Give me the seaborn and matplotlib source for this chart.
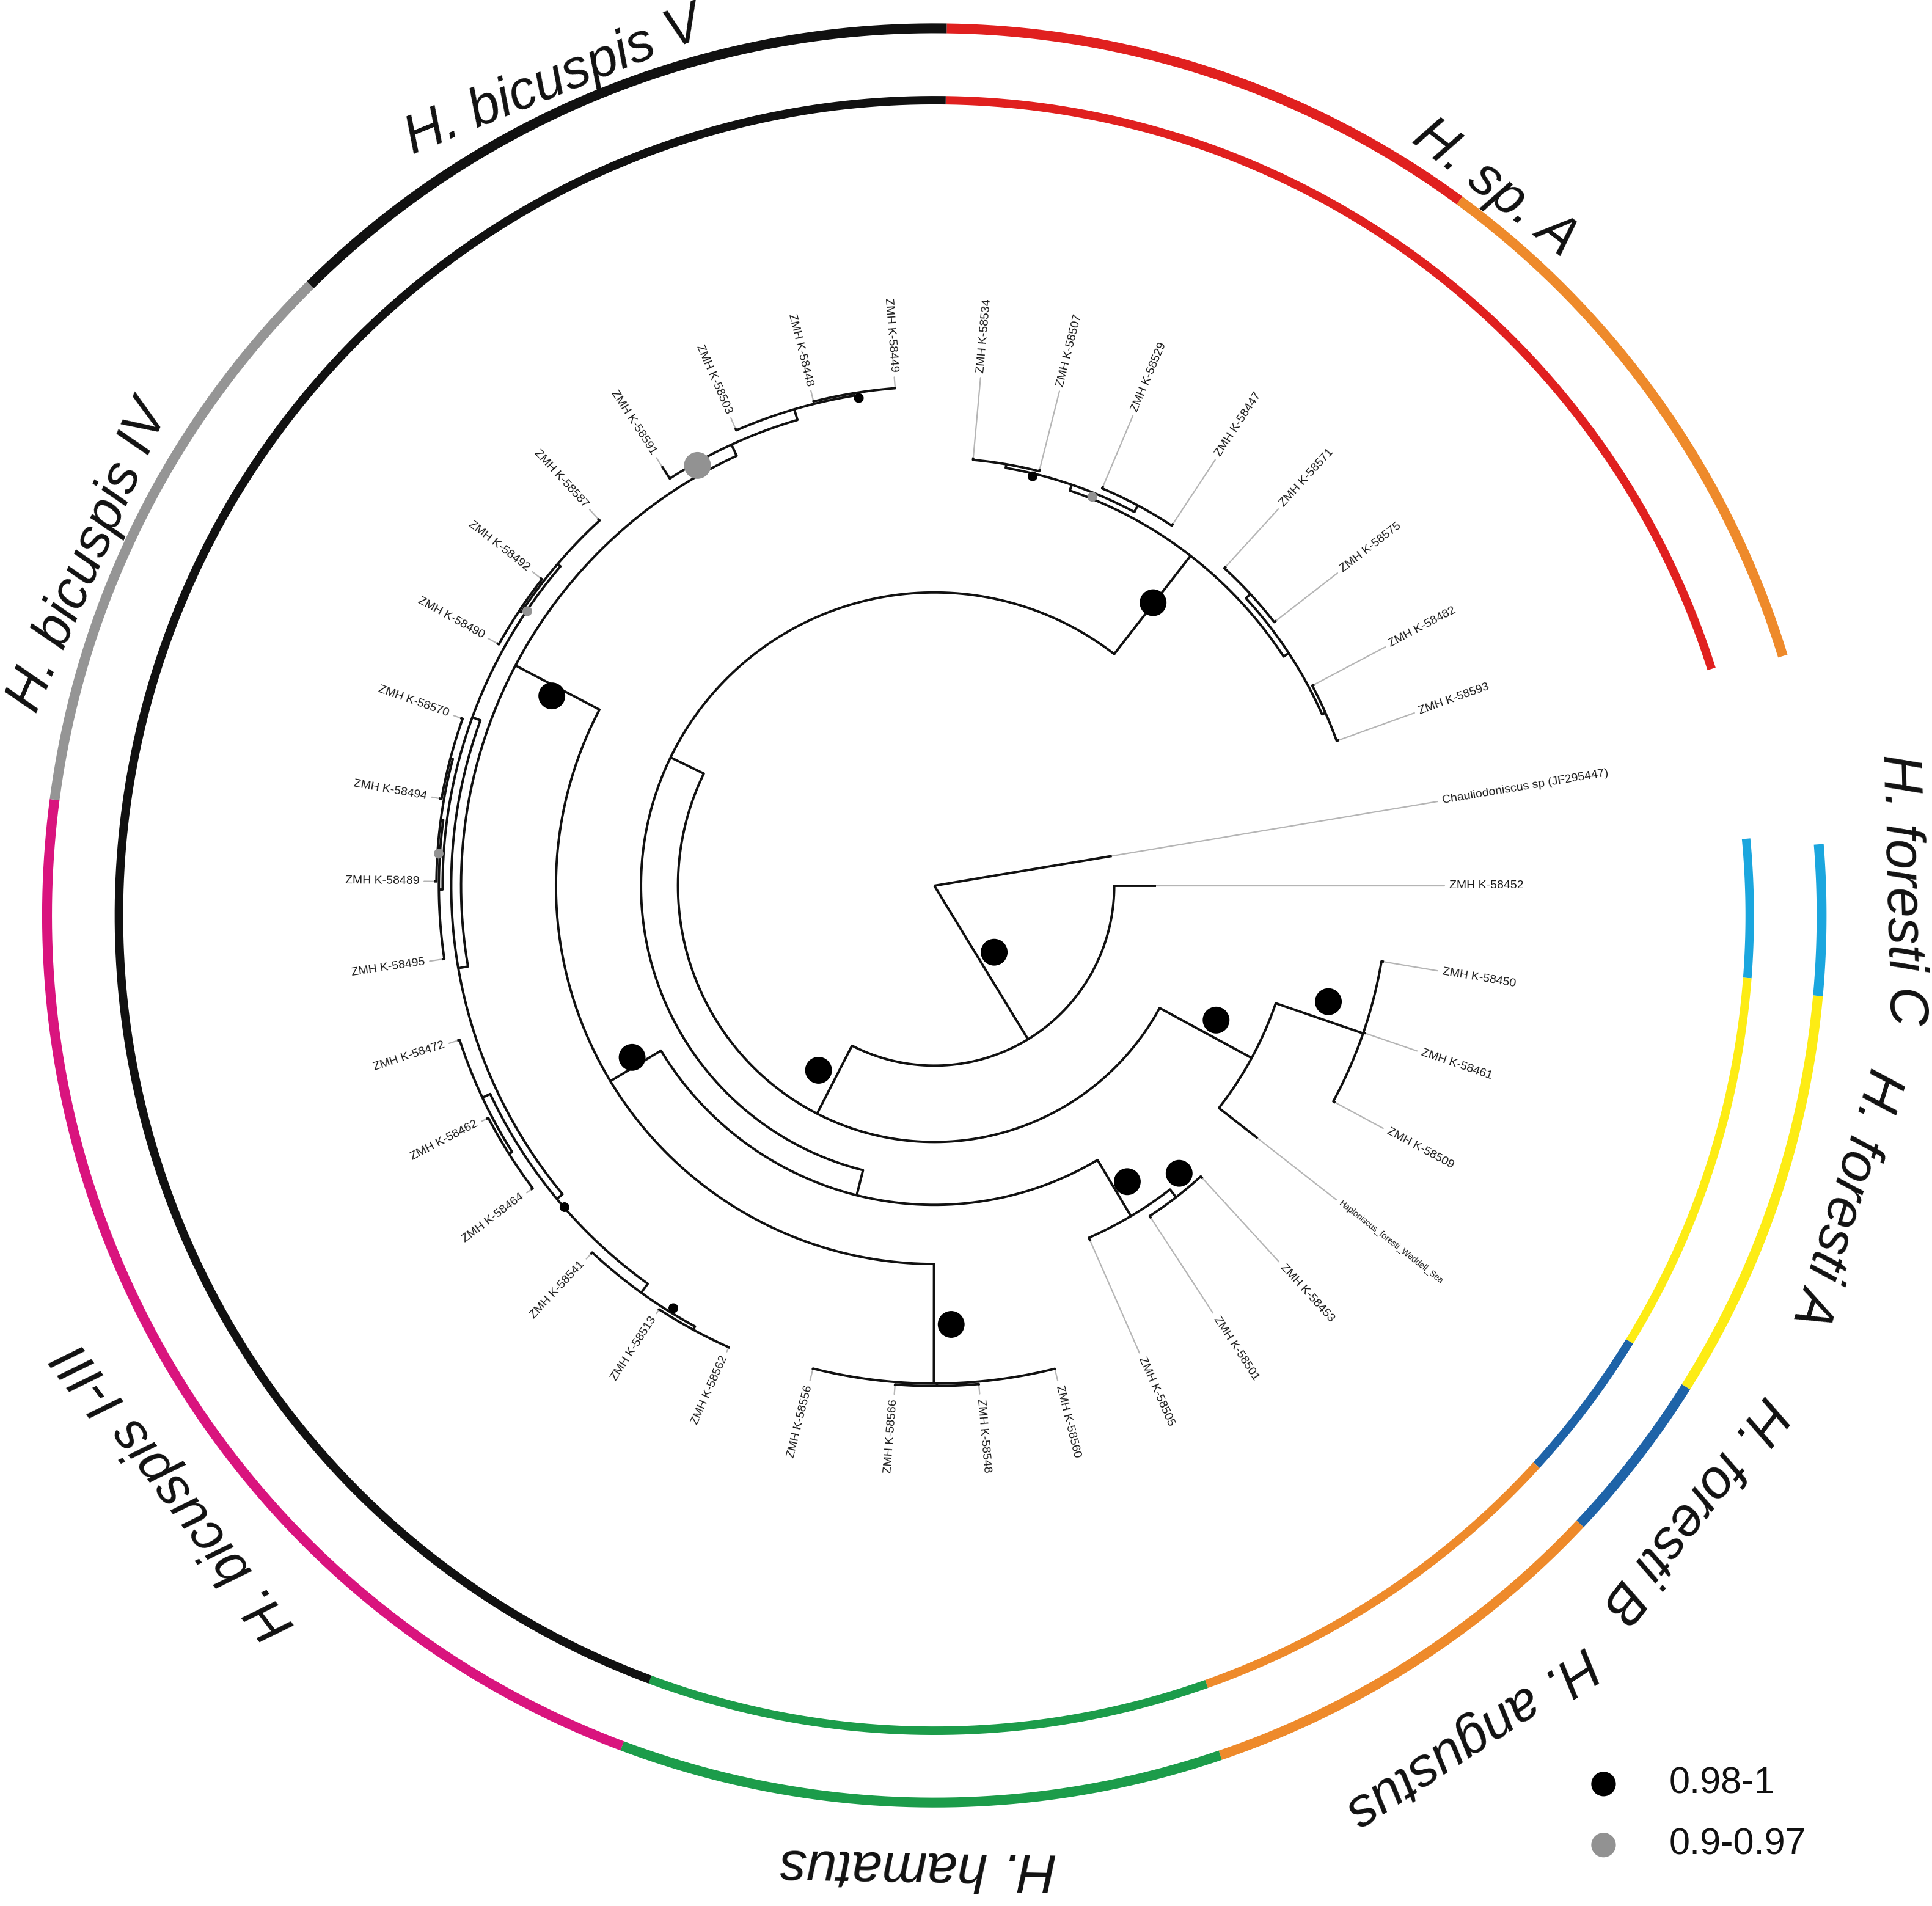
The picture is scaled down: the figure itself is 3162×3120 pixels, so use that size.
import numpy as np
import matplotlib.pyplot as plt
import seaborn as sns

sns.set_theme(style='white')
plt.rcParams['font.family'] = ['Liberation Sans', 'DejaVu Sans']

# tips, clockwise from the outgroup; angle = degrees clockwise from the top
leaf_names = ['Chauliodoniscus sp (JF295447)', 'ZMH K-58452',
              'ZMH K-58450', 'ZMH K-58461', 'ZMH K-58509',
              'Haploniscus_foresti_Weddell_Sea',
              'ZMH K-58453', 'ZMH K-58501', 'ZMH K-58505',
              'ZMH K-58560', 'ZMH K-58548', 'ZMH K-58566', 'ZMH K-58556',
              'ZMH K-58562', 'ZMH K-58513', 'ZMH K-58541', 'ZMH K-58464',
              'ZMH K-58462', 'ZMH K-58472', 'ZMH K-58495',
              'ZMH K-58489', 'ZMH K-58494', 'ZMH K-58570', 'ZMH K-58490',
              'ZMH K-58492', 'ZMH K-58587',
              'ZMH K-58591', 'ZMH K-58503', 'ZMH K-58448', 'ZMH K-58449',
              'ZMH K-58534', 'ZMH K-58507', 'ZMH K-58529', 'ZMH K-58447',
              'ZMH K-58571', 'ZMH K-58575', 'ZMH K-58482', 'ZMH K-58593']
leaf_angles = [80.5, 90, 99.6, 108.9, 118.4, 128, 137.5, 146.9, 156.3,
               166, 174.9, 184.5, 194.1,
               204, 213, 223, 233, 242.5, 252, 261.5,
               270.5, 280, 289.5, 299, 308, 317.5,
               327, 336.5, 346, 355.5,
               5.2, 14.2, 22.9, 33.4, 42.4, 52.2, 62.1, 70.2]
# radius where the black branch of each tip ends (tree units)
leaf_tip_r = [146, 180, 370, 370, 370, 333, 322, 322, 315,
              405, 407, 407, 405,
              411, 411, 409, 410, 410, 407, 404,
              406, 408, 408, 406, 406, 404,
              406, 405, 406, 406,
              349, 349, 352, 352, 351, 351, 349, 349]

# internal nodes
node_names = ['root', 'N1', 'N2', 'N5', 'N6', 'N3', 'N4', 'N8', 'N9', 'N10',
              'N12', 'N13', 'N11', 'NI', 'X', 'Z', 'Z2', 'Y', 'Y2', 'W', 'W0',
              'W1', 'W2', 'U', 'U2', 'NV', 'V2', 'V3',
              'N7', 'L', 'L1', 'L2', 'R', 'R1', 'R2']
node_r = [0, 146, 208, 293, 368, 238, 259, 312, 320, 307,
          404, 406, 384, 392, 398, 407, 410, 405, 408, 399, 402,
          404, 406, 402, 404, 394, 403, 405,
          339, 344, 347, 350, 344, 349, 347]
node_children = [
    ['Chauliodoniscus sp (JF295447)', 'N1'],
    ['ZMH K-58452', 'N2'],
    ['N5', 'N3'],
    ['N6', 'Haploniscus_foresti_Weddell_Sea'],
    ['ZMH K-58450', 'ZMH K-58461', 'ZMH K-58509'],
    ['N4', 'N7'],
    ['N8', 'N10'],
    ['N9', 'ZMH K-58505'],
    ['ZMH K-58453', 'ZMH K-58501'],
    ['N12', 'N11'],
    ['ZMH K-58560', 'N13', 'ZMH K-58556'],
    ['ZMH K-58548', 'ZMH K-58566'],
    ['NI', 'NV'],
    ['X', 'W'],
    ['Z', 'Y'],
    ['Z2', 'ZMH K-58541'],
    ['ZMH K-58562', 'ZMH K-58513'],
    ['Y2', 'ZMH K-58472'],
    ['ZMH K-58464', 'ZMH K-58462'],
    ['W0', 'U'],
    ['ZMH K-58495', 'W1'],
    ['ZMH K-58489', 'W2'],
    ['ZMH K-58494', 'ZMH K-58570'],
    ['U2', 'ZMH K-58587'],
    ['ZMH K-58490', 'ZMH K-58492'],
    ['ZMH K-58591', 'V2'],
    ['ZMH K-58503', 'V3'],
    ['ZMH K-58448', 'ZMH K-58449'],
    ['L', 'R'],
    ['L1', 'L2'],
    ['ZMH K-58534', 'ZMH K-58507'],
    ['ZMH K-58529', 'ZMH K-58447'],
    ['R1', 'R2'],
    ['ZMH K-58571', 'ZMH K-58575'],
    ['ZMH K-58482', 'ZMH K-58593'],
]

# posterior probability dots
dot_angles = [138, 212.1, 240.4, 146.9, 139.6, 115.5, 106.4, 177.8, 296.4, 37.7,
              330.6, 351.2, 13.5, 22.1, 304, 273.7, 229, 211.7]
dot_r = [72.6, 176.8, 282, 286.7, 306.5, 253.3, 333.3, 356.3, 346.5, 290.3,
         391.5, 400.5, 341.7, 340.7, 398.4, 403, 397.6, 403]
dot_support = ['0.98-1'] * 10 + ['0.9-0.97', '0.98-1', '0.98-1', '0.9-0.97',
                                 '0.9-0.97', '0.9-0.97', '0.98-1', '0.98-1']
dot_kind = ['major'] * 11 + ['minor'] * 7

# coloured rings (degrees clockwise from the top)
outer_start = [0.8, 36.3, 85.4, 95.2, 122.1, 133.3, 161.2, 200.6, 277.5, 315.3]
outer_end = [36.3, 73.0, 95.2, 122.1, 133.3, 161.2, 200.6, 277.5, 315.3, 360.8]
outer_colour = ['red', 'orange', 'lightblue', 'yellow', 'darkblue', 'orange',
                'green', 'magenta', 'grey', 'black']
inner_start = [0.8, 84.6, 94.4, 121.5, 132.4, 160.5, 200.4]
inner_end = [72.4, 94.4, 121.5, 132.4, 160.5, 200.4, 360.8]
inner_colour = ['red', 'lightblue', 'yellow', 'darkblue', 'orange', 'green', 'black']

ring_labels = ['H. bicuspis V', 'H. sp. A', 'H. bicuspis IV', 'H. foresti C',
               'H. foresti A', 'H. foresti B', 'H. angustus', 'H. hamatus',
               'H. bicuspis I-III']
ring_label_angle = [335.5, 37.6, 293, 88.5, 107.2, 128, 146.8, 181, 232.8]
ring_label_r = [1.033, 1.035, 1.035, 1.09, 1.075, 1.087, 1.107, 1.072, 1.074]
ring_label_tilt = [22, -37.6, 66.5, -88.5, -107.2, -128, -146.8, -181, -232.8]

legend_labels = ['0.98-1', '0.9-0.97']

colours = {'red': '#e0201f', 'orange': '#ee8a2b', 'lightblue': '#1ba6de',
           'yellow': '#fdec14', 'darkblue': '#1e63a8', 'green': '#1c9c4a',
           'magenta': '#d9147e', 'grey': '#959595', 'black': '#111111'}
support_colours = {'0.98-1': '#000000', '0.9-0.97': '#929292'}

fig = plt.figure(figsize=(15.81, 15.6), dpi=200)


def arc(ax, a0, a1, r, **kw):
    t = np.deg2rad(np.linspace(a0, a1, max(2, int(abs(a1 - a0) * 4))))
    ax.plot(t, np.full_like(t, r), **kw)


def polar_axes(rect):
    ax = fig.add_axes(rect, projection='polar')
    ax.set_theta_zero_location('N')
    ax.set_theta_direction(-1)
    ax.axis('off')
    return ax


# rings
ax_ring = polar_axes([-0.04455, -0.01555, 1.0563, 1.0705])
for s, e, c in zip(outer_start, outer_end, outer_colour):
    arc(ax_ring, s, e, 1.0, color=colours[c], lw=5.8, solid_capstyle='butt')
for s, e, c in zip(inner_start, inner_end, inner_colour):
    arc(ax_ring, s, e, 0.919, color=colours[c], lw=5.0, solid_capstyle='butt')
for s, a, r, rot in zip(ring_labels, ring_label_angle, ring_label_r, ring_label_tilt):
    ax_ring.text(np.deg2rad(a), r, s, rotation=rot, rotation_mode='anchor',
                 ha='center', va='center', fontsize=32, style='italic',
                 color='#111111')
ax_ring.set_ylim(0, 1.15)

# tree
ax = polar_axes([0.16465, 0.21205, 0.6379, 0.6465])
ang, rad = {}, {}
for n, a, r in zip(leaf_names, leaf_angles, leaf_tip_r):
    # walking round from the outgroup, sp. A lies past the top
    ang[n] = a + 360 if a < 75 else a
    rad[n] = r
children = dict(zip(node_names, node_children))
rad.update(dict(zip(node_names, node_r)))


def node_angle(n):
    if n not in ang:
        a = [node_angle(c) for c in children[n]]
        ang[n] = (min(a) + max(a)) / 2
    return ang[n]


node_angle('root')

label_r = 418
for n in leaf_names:
    t = np.deg2rad(ang[n])
    ax.plot([t, t], [rad[n], label_r - 4], color='#b5b5b5', lw=0.8)
    deg = ang[n] % 360
    if deg < 180:
        rot, ha = 90 - deg, 'left'
    else:
        rot, ha = 270 - deg, 'right'
    fs = 5 if n.startswith('Haploniscus') else 7
    ax.text(t, label_r, n, rotation=rot, rotation_mode='anchor', ha=ha,
            va='center', fontsize=fs, color='#1a1a1a')

for n in node_names:
    ca = [ang[c] for c in children[n]]
    if rad[n] > 0:
        arc(ax, min(ca), max(ca), rad[n], color='#111111', lw=1.4)
    for c in children[n]:
        t = np.deg2rad(ang[c])
        ax.plot([t, t], [rad[n], rad[c]], color='#111111', lw=1.4,
                solid_capstyle='butt')

sns.scatterplot(x=np.deg2rad(dot_angles), y=dot_r, hue=dot_support,
                palette=support_colours, size=dot_kind,
                sizes={'major': 250, 'minor': 33}, linewidth=0,
                legend=False, ax=ax, zorder=5)
ax.set_ylim(0, 500)
ax.axis('off')

# legend
ax_leg = fig.add_axes([0, 0, 1, 1])
ax_leg.set_xlim(0, 1)
ax_leg.set_ylim(0, 1)
sns.scatterplot(x=[0.830, 0.830], y=[0.064, 0.032], hue=legend_labels,
                palette=support_colours, s=210, linewidth=0, legend=False,
                ax=ax_leg)
for lab, y in zip(legend_labels, [0.064, 0.032]):
    ax_leg.text(0.864, y, lab, fontsize=22, va='center', ha='left',
                color='#111111')
ax_leg.axis('off')

fig.savefig('out.png', dpi=200)
